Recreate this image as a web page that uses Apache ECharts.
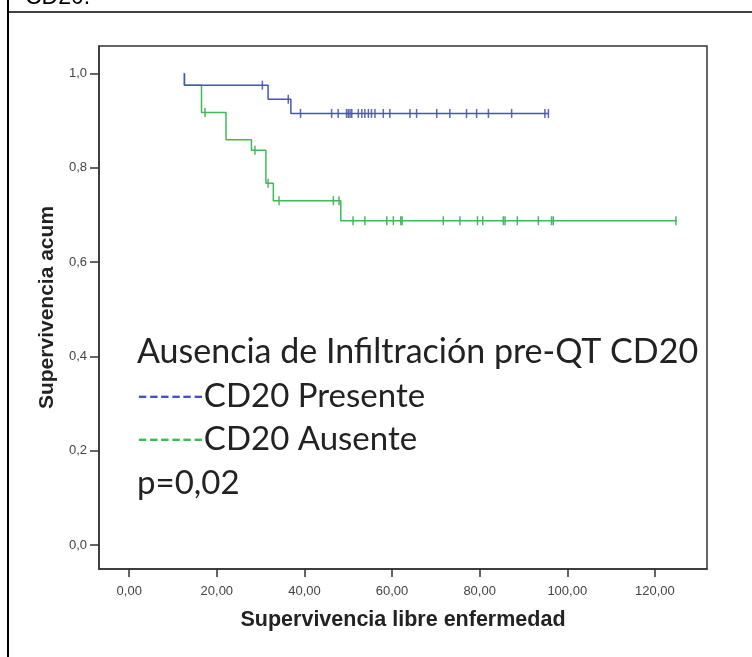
<!DOCTYPE html>
<html>
<head>
<meta charset="utf-8">
<script src="https://cdn.jsdelivr.net/npm/echarts@6/dist/echarts.min.js"></script>
<style>
  html, body { margin: 0; padding: 0; background: #fff; }
  #chart { width: 752px; height: 657px; }
</style>
</head>
<body>
<div id="chart"></div>
<script>
// curva Kaplan-Meier, tiempos y supervivencia en cada escalon
const blueTimes = [12.6, 12.6, 31.7, 36.9, 95.7]
const blueSurv = [1.0, 0.975, 0.945, 0.915, 0.915]
const blueCensored = [30.4, 36.3, 39.1, 46.2, 47.7, 49.6, 50.0, 50.4, 50.8, 52.3, 53.1, 53.8, 54.6, 55.3, 56.1, 58.0, 59.5, 64.1, 65.6, 70.2, 73.2, 77.0, 79.3, 82.0, 87.3, 94.9, 95.7]

const greenTimes = [12.6, 12.6, 16.5, 22.1, 27.9, 31.2, 32.9, 48.3, 125.0]
const greenSurv = [1.0, 0.975, 0.917, 0.859, 0.837, 0.767, 0.730, 0.6875, 0.6875]
const greenCensored = [17.3, 28.7, 31.7, 34.2, 46.6, 47.9, 51.1, 53.8, 58.8, 60.3, 62.0, 62.3, 71.7, 75.5, 79.5, 80.7, 85.4, 85.8, 88.6, 93.4, 96.4, 96.8, 124.8]

const xTicks = [0, 20, 40, 60, 80, 100, 120]
const yTicks = [0, 0.2, 0.4, 0.6, 0.8, 1.0]

const blueColor = '#4552c4'
const greenColor = '#3dbb55'
const legendFont = '33px Lato'
const dashFont = '30px Lato'

function stepValue (times, surv, t) {
    let v = surv[0]
    for (let i = 0; i < times.length; i++) {
        if (times[i] <= t) v = surv[i]
    }
    return v
}

function pairs (times, surv) {
    return times.map((t, i) => [t, surv[i]])
}

let myChart = echarts.init(document.getElementById('chart'))
let option = {
    animation: false,
    grid: {
        left: 99, right: 45, top: 46, bottom: 88,
        show: true,
        borderColor: '#333',
        borderWidth: 1.5
    },
    xAxis: {
        type: 'value',
        min: -6.9,
        max: 131.9,
        name: 'Supervivencia libre enfermedad',
        nameLocation: 'middle',
        nameGap: 40,
        nameTextStyle: { fontFamily: 'Liberation Sans', fontWeight: 'bold', fontSize: 21.5, color: '#222' },
        axisLine: { show: true, onZero: false, lineStyle: { color: '#333', width: 1.5 } },
        axisTick: { show: true, length: 8, customValues: xTicks, lineStyle: { color: '#333', width: 1.5 } },
        axisLabel: {
            customValues: xTicks,
            margin: 16,
            fontFamily: 'Liberation Sans',
            fontSize: 13,
            color: '#444',
            formatter: v => v.toFixed(2).replace('.', ',')
        },
        splitLine: { show: false }
    },
    yAxis: {
        type: 'value',
        min: -0.051,
        max: 1.058,
        name: 'Supervivencia acum',
        nameLocation: 'middle',
        nameGap: 40,
        nameTextStyle: { fontFamily: 'Liberation Sans', fontWeight: 'bold', fontSize: 21, color: '#222' },
        axisLine: { show: true, onZero: false, lineStyle: { color: '#333', width: 1.5 } },
        axisTick: { show: true, length: 9, customValues: yTicks, lineStyle: { color: '#333', width: 1.5 } },
        axisLabel: {
            customValues: yTicks,
            margin: 12,
            fontFamily: 'Liberation Sans',
            fontSize: 13,
            color: '#444',
            formatter: v => v.toFixed(1).replace('.', ',')
        },
        splitLine: { show: false }
    },
    series: [
        {
            name: 'CD20 Ausente',
            type: 'line',
            step: 'end',
            showSymbol: false,
            data: pairs(greenTimes, greenSurv),
            lineStyle: { color: greenColor, width: 1.5 },
            itemStyle: { color: greenColor }
        },
        {
            name: 'CD20 Ausente censurado',
            type: 'scatter',
            symbol: 'rect',
            symbolSize: [1.5, 9],
            data: greenCensored.map(t => [t, stepValue(greenTimes, greenSurv, t)]),
            itemStyle: { color: '#2f9a45' }
        },
        {
            name: 'CD20 Presente',
            type: 'line',
            step: 'end',
            showSymbol: false,
            data: pairs(blueTimes, blueSurv),
            lineStyle: { color: blueColor, width: 1.5 },
            itemStyle: { color: blueColor }
        },
        {
            name: 'CD20 Presente censurado',
            type: 'scatter',
            symbol: 'rect',
            symbolSize: [1.5, 9],
            data: blueCensored.map(t => [t, stepValue(blueTimes, blueSurv, t)]),
            itemStyle: { color: '#3340a8' }
        }
    ],
    graphic: [
        // bordes de la tabla
        { type: 'line', shape: { x1: 8, y1: 0, x2: 8, y2: 657 }, style: { stroke: '#000', lineWidth: 2 } },
        { type: 'line', shape: { x1: 8, y1: 12, x2: 752, y2: 12 }, style: { stroke: '#000', lineWidth: 1.5 } },
        { type: 'text', left: 25, top: -14, style: { text: 'CD20.', font: '23px "Liberation Sans"', fill: '#000' } },
        // leyenda dentro del grafico
        { type: 'text', x: 137, y: 352, style: { text: 'Ausencia de Infiltración pre-QT CD20', font: '34px Lato', fill: '#222', verticalAlign: 'middle' } },
        { type: 'text', x: 137, y: 396, style: {
            text: '{d|------}{t|CD20 Presente}', verticalAlign: 'middle',
            rich: { d: { font: dashFont, fill: blueColor }, t: { font: legendFont, fill: '#222' } }
        } },
        { type: 'text', x: 137, y: 439, style: {
            text: '{d|------}{t|CD20 Ausente}', verticalAlign: 'middle',
            rich: { d: { font: dashFont, fill: greenColor }, t: { font: legendFont, fill: '#222' } }
        } },
        { type: 'text', x: 137, y: 483, style: { text: 'p=0,02', font: legendFont, fill: '#222', verticalAlign: 'middle' } }
    ]
}
myChart.setOption(option)
window.addEventListener('resize', function () {
    myChart.resize()
})
</script>
</body>
</html>
